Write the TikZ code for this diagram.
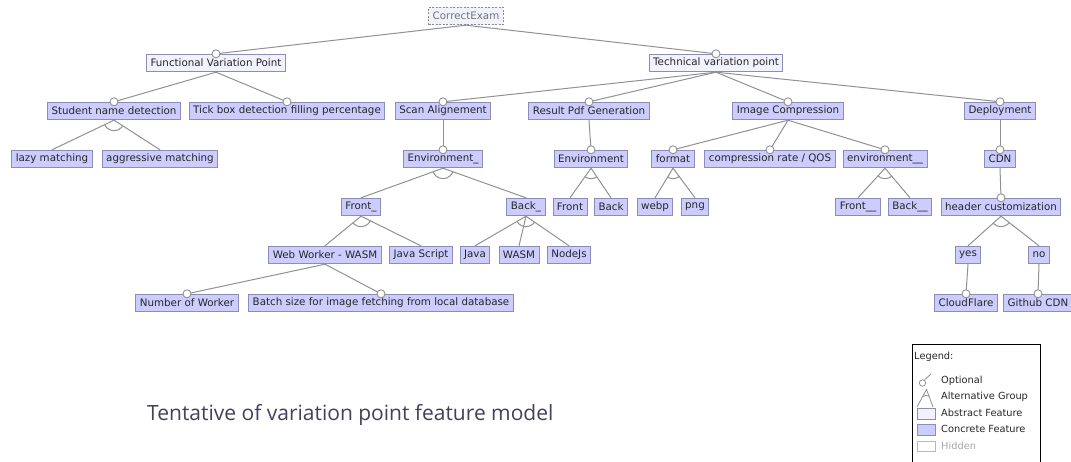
\documentclass[tikz,border=0pt]{standalone}
\usepackage{fontspec}
\newfontfamily\featfont{DejaVu Sans}
\newfontfamily\capfont{Open Sans}
\definecolor{concrete}{RGB}{204,204,255}
\definecolor{abstract}{RGB}{242,242,255}
\definecolor{featline}{RGB}{140,140,180}
\definecolor{edgegray}{RGB}{145,145,145}
\definecolor{captext}{RGB}{70,62,90}

\tikzset{
  feat/.style={draw=featline, fill=concrete, text=black!85, line width=0.9pt,
    font=\featfont\fontsize{10.3}{12}\selectfont, minimum height=17.5pt,
    inner xsep=4pt, inner ysep=0pt},
  absfeat/.style={feat, fill=abstract},
  rootfeat/.style={absfeat, dash pattern=on 2pt off 1.5pt, draw=black!45, text=black!55},
  edge/.style={draw=edgegray, line width=1pt},
  opt/.style={circle, draw=edgegray, fill=white, inner sep=0pt,
    minimum size=8pt, line width=0.9pt},
  legtext/.style={anchor=west, inner sep=0pt, text=black!85,
    font=\featfont\fontsize{9.8}{11}\selectfont}
}

\begin{document}
\begin{tikzpicture}[x=1pt,y=-1pt]
  \useasboundingbox (0,0) rectangle (1071,462);

  % root and variation points
  \node[rootfeat] (root) at (466,16) {CorrectExam};
  \node[absfeat] (fvp) at (216,63) {Functional Variation Point};
  \node[absfeat] (tvp) at (716,63) {Technical variation point};

  % second row
  \node[feat] (snd) at (114,111) {Student name detection};
  \node[feat] (tick) at (287,111) {Tick box detection filling percentage};
  \node[feat] (scan) at (443,111) {Scan Alignement};
  \node[feat] (pdf) at (589,111) {Result Pdf Generation};
  \node[feat] (imgc) at (788,111) {Image Compression};
  \node[feat] (depl) at (1000,111) {Deployment};

  % third row
  \node[feat] (lazy) at (52,159) {lazy matching};
  \node[feat] (aggr) at (160,159) {aggressive matching};
  \node[feat] (envs) at (443,159) {Environment\_};
  \node[feat] (envp) at (591,159) {Environment};
  \node[feat] (fmt) at (673,159) {format};
  \node[feat] (rate) at (770,159) {compression rate / QOS};
  \node[feat] (envc) at (885,159) {environment\_\_};
  \node[feat] (cdn) at (1000,159) {CDN};

  % fourth row
  \node[feat] (fronts) at (361,207) {Front\_};
  \node[feat] (backs) at (526,207) {Back\_};
  \node[feat] (frontp) at (570,207) {Front};
  \node[feat] (backp) at (611,207) {Back};
  \node[feat] (webp) at (655,207) {webp};
  \node[feat] (png) at (695,207) {png};
  \node[feat] (frontc) at (858,207) {Front\_\_};
  \node[feat] (backc) at (910,207) {Back\_\_};
  \node[feat] (hdr) at (1001,207) {header customization};

  % fifth row
  \node[feat] (wwk) at (325,255) {Web Worker - WASM};
  \node[feat] (js) at (421,255) {Java Script};
  \node[feat] (java) at (475,255) {Java};
  \node[feat] (wasm) at (519,255) {WASM};
  \node[feat] (node) at (569,255) {NodeJs};
  \node[feat] (yes) at (968,255) {yes};
  \node[feat] (no) at (1039,255) {no};

  % sixth row
  \node[feat] (nwk) at (187,303) {Number of Worker};
  \node[feat] (batch) at (381,303) {Batch size for image fetching from local database};
  \node[feat] (cfl) at (966,303) {CloudFlare};
  \node[feat] (ghc) at (1038,303) {Github CDN};

  % optional children
  \foreach \a/\b in {root/fvp,root/tvp,fvp/snd,fvp/tick,tvp/scan,tvp/pdf,
      tvp/imgc,tvp/depl,scan/envs,pdf/envp,imgc/fmt,imgc/rate,imgc/envc,
      depl/cdn,cdn/hdr,wwk/nwk,wwk/batch,yes/cfl,no/ghc}
  {
    \draw[edge] (\a.south) -- (\b.north);
    \node[opt] (o-\b) at (\b.north) {};
  }

  % alternative groups
  \foreach \a/\b in {snd/lazy,snd/aggr,envs/fronts,envs/backs,envp/frontp,
      envp/backp,fmt/webp,fmt/png,envc/frontc,envc/backc,hdr/yes,hdr/no,
      fronts/wwk,fronts/js,backs/java,backs/wasm,backs/node}
    \draw[edge] (\a.south) -- (\b.north);

  \foreach \p/\f/\l in {snd/lazy/aggr,envs/fronts/backs,envp/frontp/backp,
      fmt/webp/png,envc/frontc/backc,hdr/yes/no,fronts/wwk/js,backs/java/node}
  {
    \begin{scope}
      \clip (\p.south) -- (\f.north) -- (\l.north) -- cycle;
      \draw[edge] (\p.south) circle (10.5);
    \end{scope}
  }

  % caption
  \node[anchor=west, inner sep=0pt, text=captext,
    font=\capfont\fontsize{21}{24}\selectfont] (caption) at (147,415)
    {Tentative of variation point feature model};

  % legend
  \draw[black, line width=0.9pt] (912,462) -- (912,344) -- (1040,344) -- (1040,462);
  \node[legtext] (leg) at (914,357) {Legend:};
  \draw[edge, line width=0.8pt] (922.5,383) circle (3.2);
  \draw[edge, line width=0.8pt] (924.5,379.8) -- (931,374);
  \node[legtext] (l-opt) at (941,381) {Optional};
  \draw[edge, line width=0.8pt] (917,407) -- (926.5,389.5) -- (933,407);
  \draw[edge, line width=0.8pt] (922.7,396.5) arc[start angle=241, end angle=290, radius=8];
  \node[legtext] (l-alt) at (941,397) {Alternative Group};
  \draw[featline, fill=abstract, line width=0.8pt] (917,408) rectangle (935,419);
  \node[legtext] (l-abs) at (941,413) {Abstract Feature};
  \draw[featline, fill=concrete, line width=0.8pt] (917,424.5) rectangle (935,435);
  \node[legtext] (l-con) at (941,429) {Concrete Feature};
  \draw[gray!55, fill=white, line width=0.8pt] (917,441.5) rectangle (935,451.5);
  \node[legtext, text=gray!70] (l-hid) at (941,446) {Hidden};
\end{tikzpicture}
\end{document}
